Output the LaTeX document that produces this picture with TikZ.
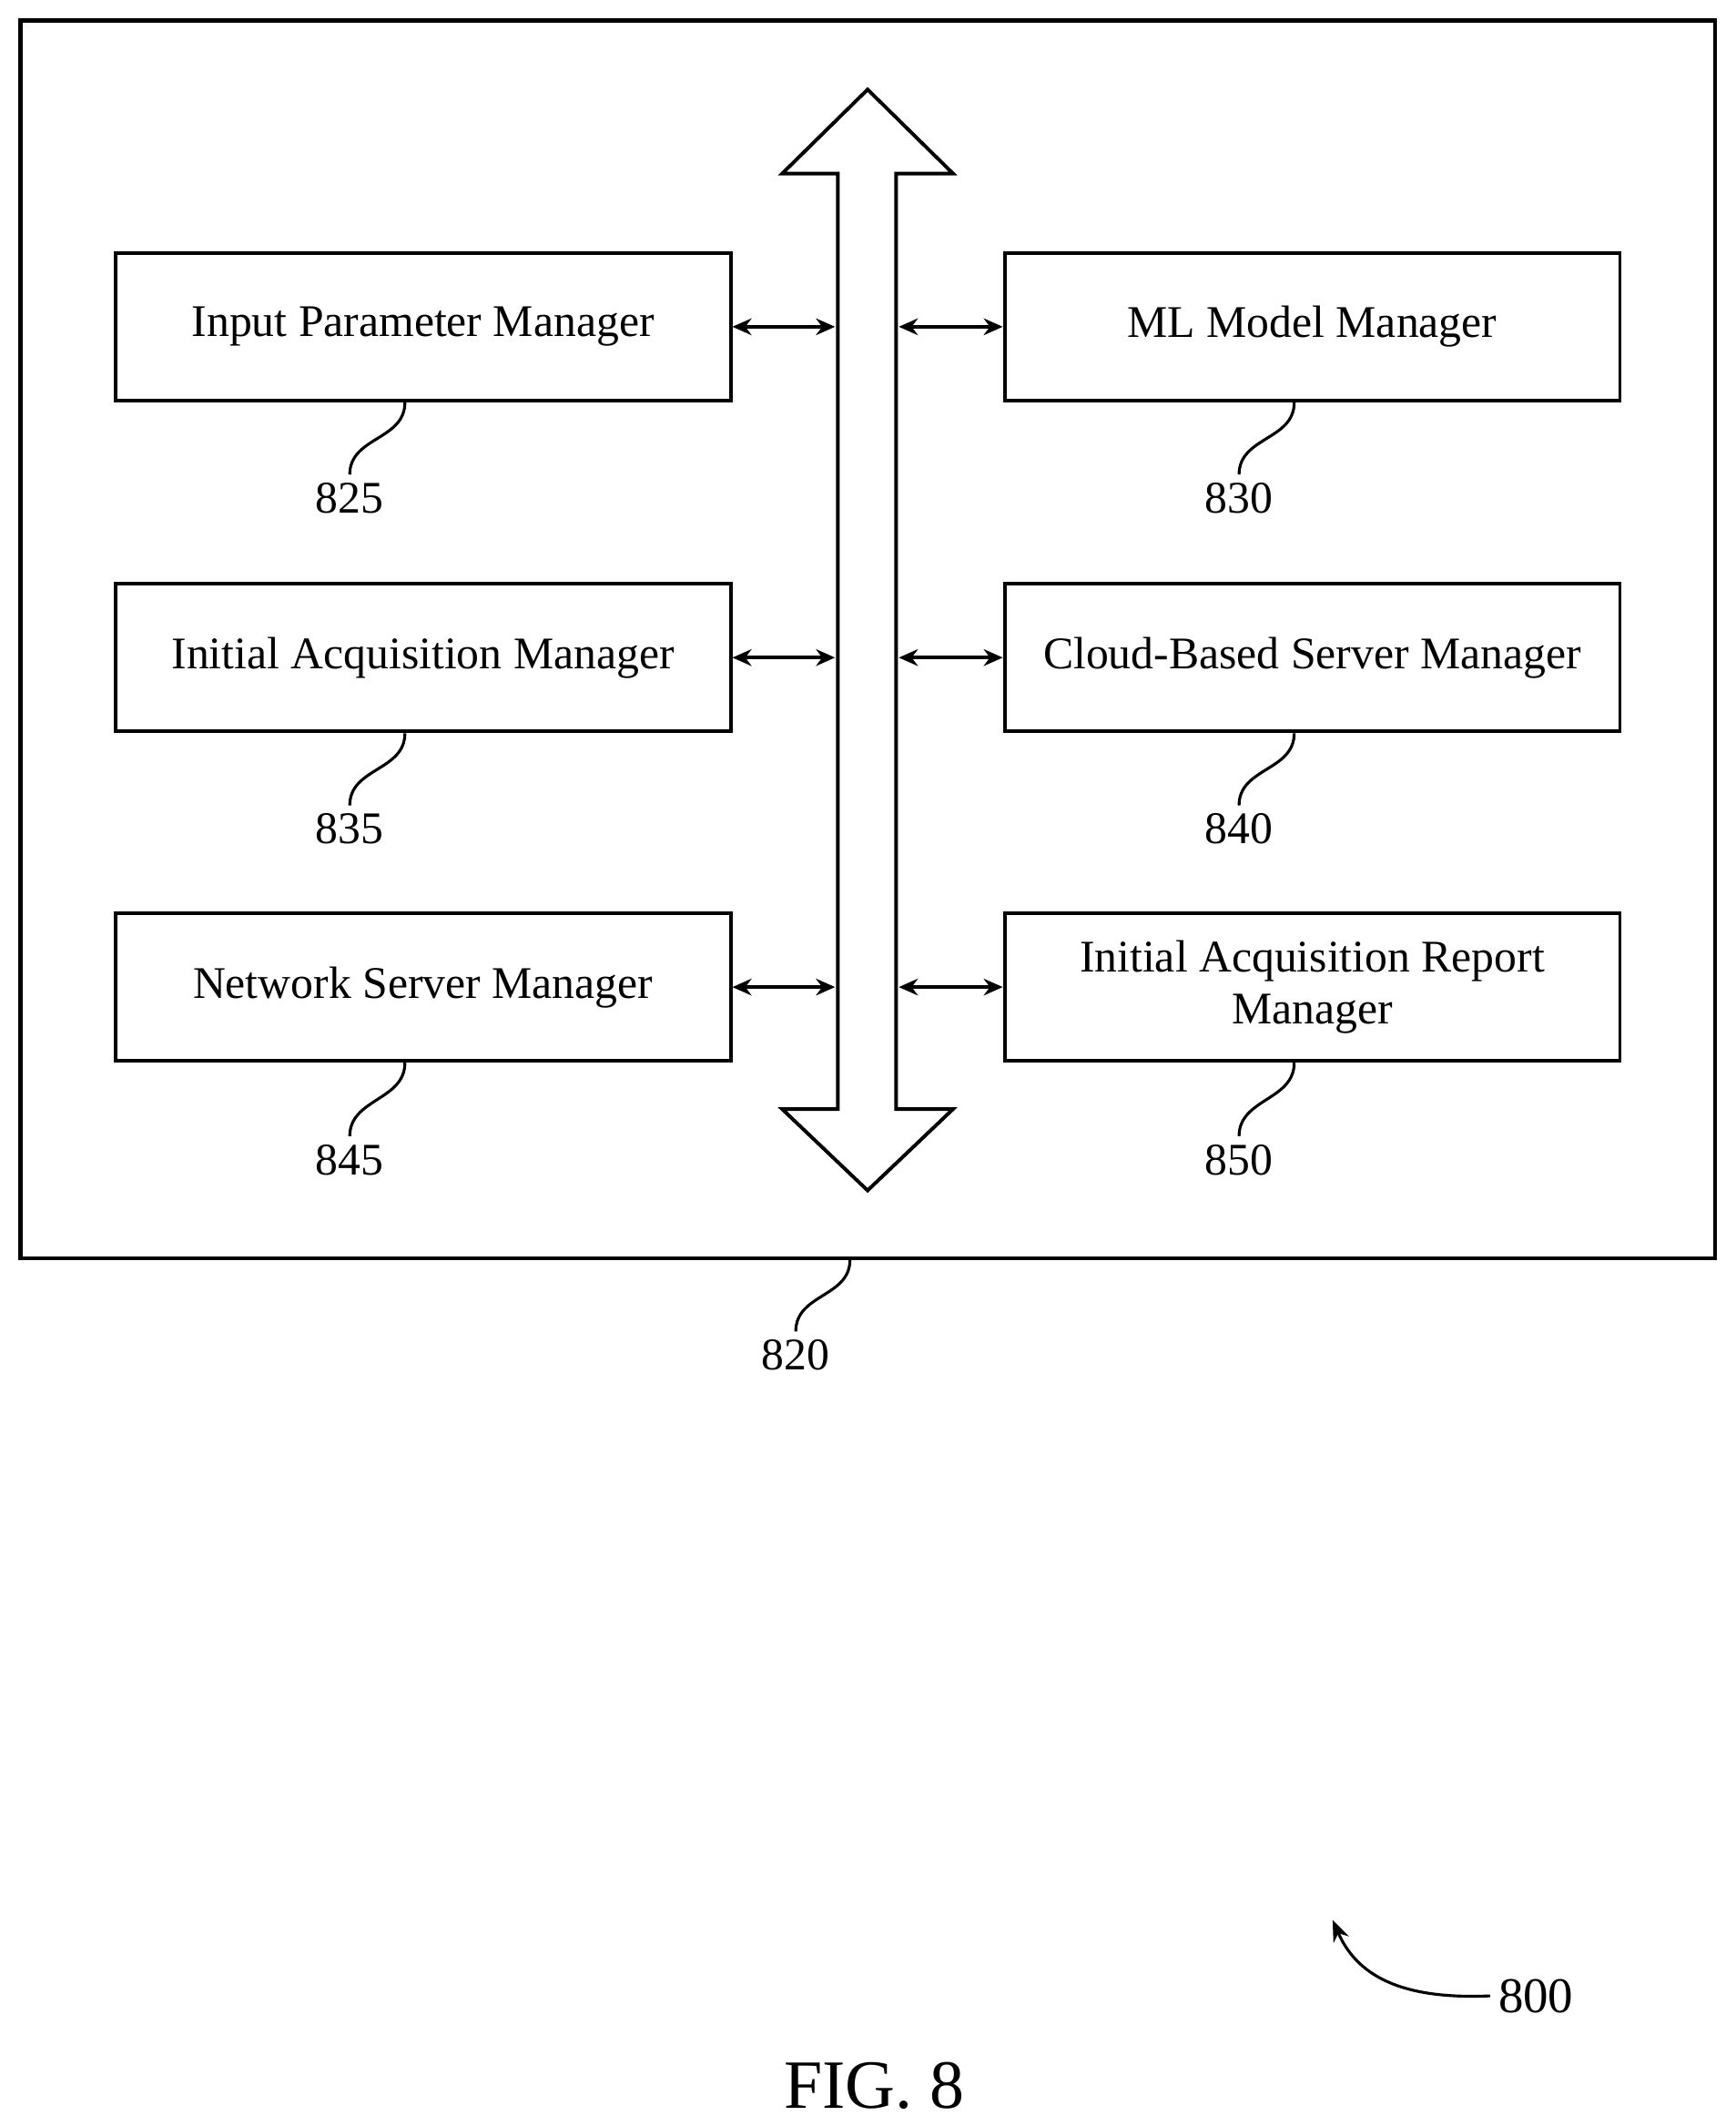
\documentclass[tikz,border=0pt]{standalone}
\usepackage{fontspec}
\setmainfont{Liberation Serif}
\usetikzlibrary{arrows.meta}
\tikzset{
  box/.style={draw, line width=1.5pt, minimum width=9.08cm, minimum height=2.18cm, align=center, font=\fontsize{19}{22}\selectfont},
  num/.style={font=\fontsize{19}{22}\selectfont, anchor=north},
  link/.style={line width=1.4pt, {Stealth[length=8pt,width=7pt]}-{Stealth[length=8pt,width=7pt]}},
  lead/.style={line width=1.2pt}
}
\begin{document}
\begin{tikzpicture}[x=0.02cm, y=-0.02cm]
    \useasboundingbox (0,0) rectangle (1280,1568);
    \draw[line width=1.7pt] (15,15) rectangle (1265,928);
    % bus arrow
    \draw[line width=1.5pt] (618,818) -- (618,128) -- (577,128) -- (640,66) -- (703,128)
        -- (661,128) -- (661,818) -- (703,818) -- (640,878) -- (577,818) -- cycle;
    % managers
    \node[box] (ipm) at (312,241) {Input Parameter Manager};
    \node[box] (iam) at (312,485) {Initial Acquisition Manager};
    \node[box] (nsm) at (312,728) {Network Server Manager};
    \node[box] (mlm) at (968,241) {ML Model Manager};
    \node[box] (cbm) at (968,485) {Cloud-Based Server Manager};
    \node[box] (iar) at (968,728) {Initial Acquisition Report\\Manager};
    \foreach \n/\y in {ipm/241,iam/485,nsm/728} {
        \coordinate (b\n) at (616,\y);
        \draw[link] (\n.east) -- (b\n);
    }
    \foreach \n/\y in {mlm/241,cbm/485,iar/728} {
        \coordinate (b\n) at (663,\y);
        \draw[link] (b\n) -- (\n.west);
    }
    % reference numerals
    \foreach \n/\t/\x/\y in {ipm/825/258/350,iam/835/258/594,nsm/845/258/838,
                             mlm/830/914/350,cbm/840/914/594,iar/850/914/838} {
        \node[num] (l\t) at (\x,\y) {\t};
        \draw[lead] ([xshift=4.3cm]\n.south west) .. controls +(0,28) and +(0,-28) .. (l\t.north);
    }
    \node[num] (l820) at (587,982) {820};
    \coordinate (c820) at (627,929);
    \draw[lead] (c820) .. controls +(0,28) and +(0,-28) .. (l820.north);
    \node[font=\fontsize{21}{24}\selectfont] (l800) at (1133,1472) {800};
    \draw[lead, -{Stealth[length=9pt,width=7pt]}] (l800.west) .. controls (1030,1475) and (1000,1455) .. (983,1416);
    \node[font=\fontsize{29}{32}\selectfont] (fig) at (645,1538) {FIG. 8};
\end{tikzpicture}
\end{document}
